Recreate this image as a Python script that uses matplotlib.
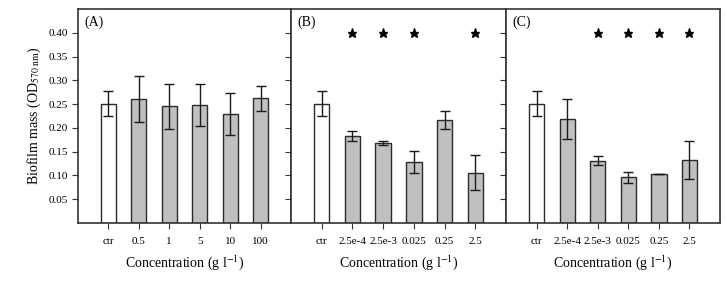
import matplotlib
matplotlib.use('Agg')
import matplotlib.pyplot as plt
import numpy as np

plt.rcParams['font.family'] = ['Liberation Serif', 'DejaVu Serif']
plt.rcParams['mathtext.fontset'] = 'stix'

# panel A data
labels_a = ['ctr', '0.5', '1', '5', '10', '100']
means_a = [0.251, 0.261, 0.245, 0.248, 0.229, 0.262]
errs_a = [0.026, 0.049, 0.047, 0.045, 0.045, 0.026]
stars_a = [False, False, False, False, False, False]

# panel B data
labels_b = ['ctr', '2.5e-4', '2.5e-3', '0.025', '0.25', '2.5']
means_b = [0.251, 0.183, 0.168, 0.128, 0.217, 0.106]
errs_b = [0.026, 0.010, 0.005, 0.023, 0.019, 0.037]
stars_b = [False, True, True, True, False, True]

# panel C data
labels_c = ['ctr', '2.5e-4', '2.5e-3', '0.025', '0.25', '2.5']
means_c = [0.251, 0.219, 0.131, 0.096, 0.103, 0.132]
errs_c = [0.026, 0.042, 0.009, 0.012, 0.001, 0.040]
stars_c = [False, False, True, True, True, True]

panel_names = ['(A)', '(B)', '(C)']
yticks = [0.05, 0.10, 0.15, 0.20, 0.25, 0.30, 0.35, 0.40]
star_y = 0.40

fig = plt.figure(figsize=(7.27, 2.83), dpi=100)
W, H = 727.0, 283.0
edges = [78, 291, 506, 720]
bottom, top = 223, 9

panels = [(labels_a, means_a, errs_a, stars_a),
          (labels_b, means_b, errs_b, stars_b),
          (labels_c, means_c, errs_c, stars_c)]

for i, (labels, means, errs, stars) in enumerate(panels):
    ax = fig.add_axes([edges[i] / W, (H - bottom) / H,
                       (edges[i + 1] - edges[i]) / W, (bottom - top) / H])
    x = np.arange(len(labels))
    colors = ['white'] + ['#c0c0c0'] * (len(labels) - 1)
    ax.bar(x, means, width=0.5, color=colors, edgecolor='#2a2a2a', linewidth=1.0, zorder=2)
    ax.errorbar(x, means, yerr=errs, fmt='none', ecolor='#1a1a1a', elinewidth=1.0,
                capsize=3.5, capthick=1.0, zorder=3)
    for xi, s in zip(x, stars):
        if s:
            ax.plot(xi, star_y, marker='*', color='black', markersize=6.5, linestyle='none')
    ax.set_xlim(-1, len(labels))
    ax.set_ylim(0, 0.45)
    ax.set_xticks(x)
    ax.set_xticklabels(labels, fontsize=8)
    ax.set_yticks(yticks)
    ax.tick_params(axis='both', direction='out', length=4, width=0.8, color='#333333')
    ax.tick_params(axis='x', pad=6)
    if i == 0:
        ax.set_yticklabels(['%.2f' % t for t in yticks], fontsize=8)
        ax.set_ylabel('Biofilm mass (OD$_{570\\ \\mathrm{nm}}$)', fontsize=10, labelpad=4)
    else:
        ax.set_yticklabels([])
    for sp in ax.spines.values():
        sp.set_color('#333333')
        sp.set_linewidth(1.2)
    ax.set_xlabel('Concentration (g l$^{-1}$)', fontsize=10, labelpad=5)
    ax.text(0.03, 0.97, panel_names[i], transform=ax.transAxes, fontsize=10,
            ha='left', va='top')

fig.savefig('out.png', dpi=100)
